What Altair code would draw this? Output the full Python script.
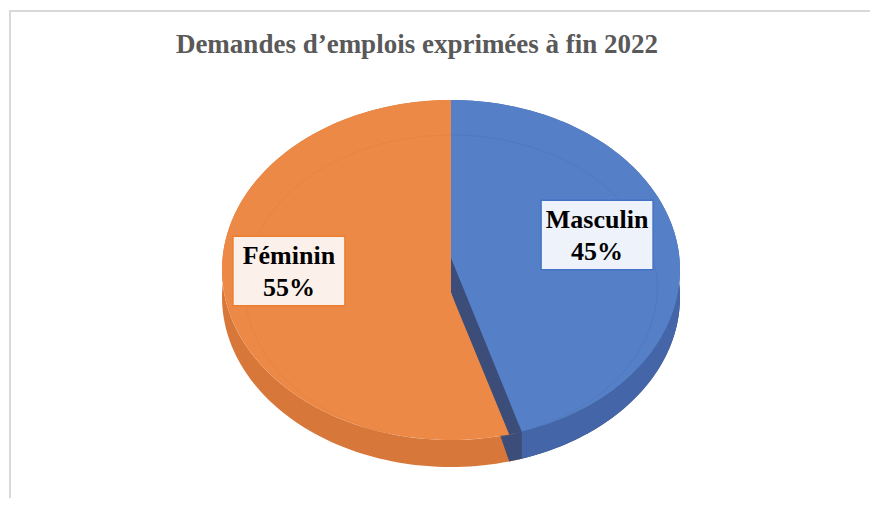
import altair as alt
import pandas as pd

# ---- data ----
categories = ["Masculin", "Féminin"]
values = [45, 55]
title_text = "Demandes d’emplois exprimées à fin 2022"

# ---- style ----
top_colors = ["#5580C8", "#ED8946"]
side_colors = ["#4466A8", "#D8773A"]
cut_color = "#3B4D78"
box_fills = ["#EEF2FA", "#FCF0EA"]
box_strokes = ["#4472C4", "#ED7D31"]

W, H = 862, 490
CX, CY = 443, 262          # centre of the tilted pie (plot px)
RX, RY = 229, 170          # radii of the tilted pie
DEPTH = 27                 # thickness of the 3D side
RAISE = -12                # vertical shift of the first slice's apex (perspective)
CUT = 35                   # apparent height of the visible cut face
GAP = 0.057                # angular gap revealing the cut face (radians)
N = 120                    # points per slice outline
LRX, LRY = 156, 115        # label radius
LDX, LDY = -8, -17         # label offset

df = pd.DataFrame({"category": categories, "value": values,
                   "order": list(range(len(categories)))})

xenc = alt.X("px:Q", scale=alt.Scale(domain=[0, W], nice=False, zero=False), axis=None)
yenc = alt.Y("py:Q", scale=alt.Scale(domain=[0, H], nice=False, zero=False, reverse=True), axis=None)

base = (
    alt.Chart(df)
    .transform_joinaggregate(total="sum(value)")
    .transform_window(cum="sum(value)", sort=[alt.SortField("order")])
    .transform_calculate(
        a0="2*PI*(datum.cum-datum.value)/datum.total",
        a1="2*PI*datum.cum/datum.total",
        mid="PI*(2*datum.cum-datum.value)/datum.total",
        share="datum.value/datum.total",
        apex=f"datum.order == 0 ? {RAISE} : {RAISE + CUT}",
        gap=f"datum.order == 0 ? 0 : {GAP}",
    )
)


def wedge(dy, apex_y=None, start="datum.a0", end="datum.a1",
          sx=1.0, sy=1.0, cyo=0, with_center=True):
    last = N + 2 if with_center else N + 1
    if apex_y is None:
        apex_y = f"({CY} + datum.apex)"
    return (
        base.transform_calculate(idx=f"sequence(0, {last})")
        .transform_flatten(["idx"])
        .transform_calculate(t=f"({start}) + (({end}) - ({start})) * min(datum.idx, {N}) / {N}")
        .transform_calculate(
            px=f"datum.idx > {N} ? {CX} : {CX} + {RX * sx} * sin(datum.t)",
            py=f"datum.idx > {N} ? {apex_y} : {CY + cyo} - {RY * sy} * cos(datum.t) + {dy}",
        )
    )


def band():
    return (
        base.transform_calculate(idx=f"sequence(0, {2 * N + 2})")
        .transform_flatten(["idx"])
        .transform_calculate(j=f"datum.idx <= {N} ? datum.idx : {2 * N + 1} - datum.idx")
        .transform_calculate(t=f"datum.a0 + (datum.a1 - datum.a0) * datum.j / {N}")
        .transform_calculate(
            px=f"{CX} + {RX} * sin(datum.t)",
            py=f"{CY} - {RY} * cos(datum.t) + (datum.idx <= {N} ? 0 : {DEPTH})",
        )
    )


def poly(chart, colors):
    return chart.mark_line(filled=True, interpolate="linear").encode(
        x=xenc, y=yenc,
        fill=alt.Fill("category:N", scale=alt.Scale(domain=categories, range=colors), legend=None),
        detail="category:N",
        order=alt.Order("idx:Q"),
    )


side_back = poly(band().transform_filter("datum.order != 0"), side_colors)
cut = poly(
    wedge(DEPTH, apex_y=f"({CY + RAISE + CUT})", end=f"datum.a1 + {GAP}")
    .transform_filter("datum.order == 0"),
    [cut_color, cut_color],
)
side_front = poly(band().transform_filter("datum.order == 0"), side_colors)
top_first = poly(wedge(0).transform_filter("datum.order == 0"), top_colors)
top_rest = poly(wedge(0, start="datum.a0 + datum.gap").transform_filter("datum.order != 0"),
                top_colors)

bevel = wedge(0, sx=0.9, sy=0.9, cyo=18, with_center=False).mark_line(
    strokeWidth=1, opacity=0.3, interpolate="linear"
).encode(
    x=xenc, y=yenc,
    stroke=alt.Stroke("category:N", scale=alt.Scale(domain=categories, range=side_colors), legend=None),
    detail="category:N",
    order=alt.Order("idx:Q"),
)

lab = base.transform_calculate(
    px=f"{CX + LDX} + {LRX} * sin(datum.mid)",
    py=f"{CY + LDY} - {LRY} * cos(datum.mid)",
    label="datum.category + '\\n' + format(datum.share, '.0%')",
)

boxes = lab.mark_point(
    shape="M-1,-0.62L1,-0.62L1,0.62L-1,0.62Z", size=112 ** 2, filled=True,
    opacity=1, fillOpacity=1, strokeWidth=1.5,
).encode(
    x=xenc, y=yenc,
    fill=alt.Fill("category:N", scale=alt.Scale(domain=categories, range=box_fills), legend=None),
    stroke=alt.Stroke("category:N", scale=alt.Scale(domain=categories, range=box_strokes), legend=None),
)

texts = lab.mark_text(
    font="Liberation Serif", fontWeight="bold", fontSize=26, lineBreak="\n",
    lineHeight=32, baseline="middle", align="center", color="#000000", dy=-15,
).encode(x=xenc, y=yenc, text="label:N")

title = alt.Chart(pd.DataFrame({"t": [title_text]})).mark_text(
    font="Liberation Serif", fontWeight="bold", fontSize=27, color="#595959",
    baseline="alphabetic", align="center",
).encode(x=alt.value(409), y=alt.value(45), text="t:N")

frame_df = pd.DataFrame({"f": [0]})
frame_top = alt.Chart(frame_df).mark_rule(color="#D9D9D9", strokeWidth=2).encode(
    x=alt.value(1), x2=alt.value(W + 10), y=alt.value(3))
frame_left = alt.Chart(frame_df).mark_rule(color="#D9D9D9", strokeWidth=2).encode(
    x=alt.value(2), y=alt.value(2), y2=alt.value(H + 10))

chart = (
    alt.layer(frame_top, frame_left, side_back, cut, side_front, top_first, top_rest,
              bevel, boxes, texts, title)
    .resolve_scale(fill="independent", stroke="independent")
    .properties(width=W, height=H, autosize="none", padding=0, background="white")
    .configure_view(stroke=None)
)

chart.save("out.html", embed_options={"renderer": "svg", "actions": False})
